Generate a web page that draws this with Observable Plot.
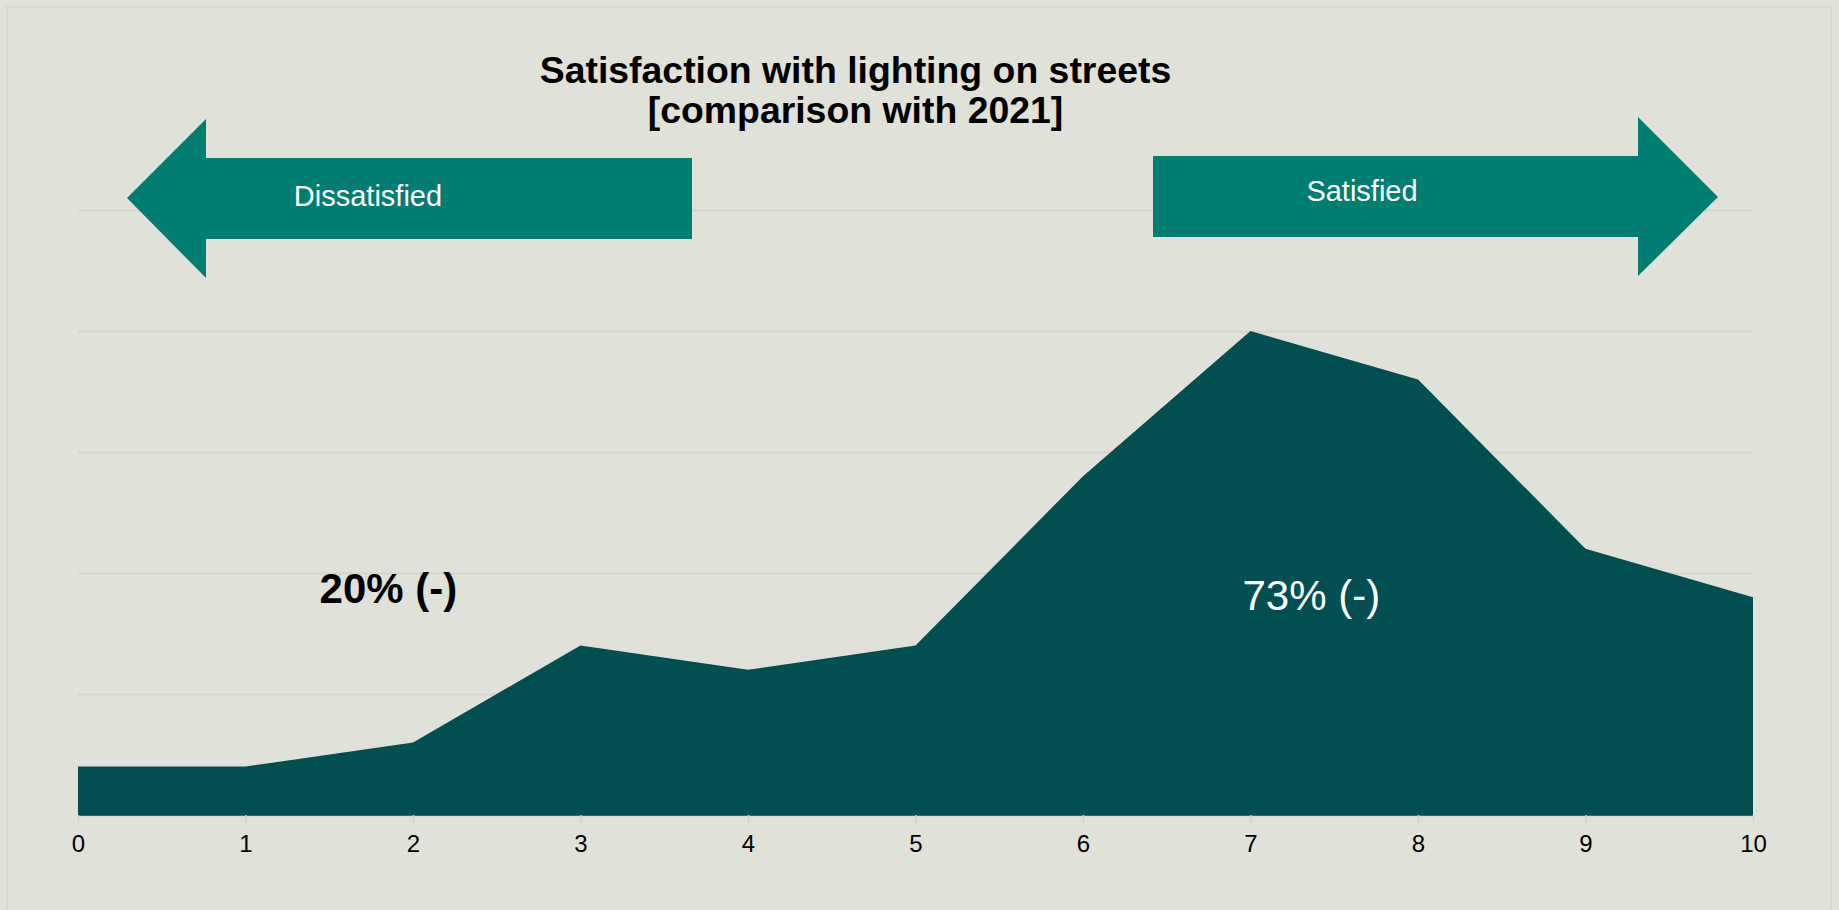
<!DOCTYPE html>
<html>
<head>
<meta charset="utf-8">
<script src="https://cdn.jsdelivr.net/npm/d3@7"></script>
<script src="https://cdn.jsdelivr.net/npm/@observablehq/plot@0.6"></script>
<style>
  html, body { margin: 0; padding: 0; background: #e0e1d9; }
  #wrap { position: relative; width: 1839px; height: 910px; overflow: hidden; background: #e0e1d9; }
  #frame { position: absolute; left: 6px; top: 6px; width: 1826px; height: 920px; border: 2px solid #d6d7d4; box-sizing: border-box; pointer-events: none; }
  #chart { position: absolute; left: 0; top: 0; }
  #overlay { position: absolute; left: 0; top: 0; pointer-events: none; }
</style>
</head>
<body>
<div id="wrap">
  <div id="frame"></div>
  <div id="chart"></div>
  <svg id="overlay" width="1839" height="300"></svg>
</div>
<script>
// ---- data ----
const scores = [0, 1, 2, 3, 4, 5, 6, 7, 8, 9, 10];
const shares = [2, 2, 3, 7, 6, 7, 14, 20, 18, 11, 9];   // % of respondents per score
const gridValues = [0, 5, 10, 15, 20, 25];
const titleLines = ["Satisfaction with lighting on streets", "[comparison with 2021]"];
const arrowLabels = ["Dissatisfied", "Satisfied"];
const summaryLabels = ["20% (-)", "73% (-)"];

const data = scores.map((s, i) => ({score: s, share: shares[i]}));

// annotation placement (data coordinates)
const dissatisfiedPos = [{x: 1.85, y: 9.35, text: summaryLabels[0]}];
const satisfiedPos = [{x: 7.36, y: 9.05, text: summaryLabels[1]}];

const W = 1839, H = 910;
const chart = Plot.plot({
  width: W,
  height: H,
  marginLeft: 78,
  marginRight: W - 1753,
  marginTop: 210,
  marginBottom: H - 815,
  style: {background: "transparent", fontFamily: "'Liberation Sans', Arial, sans-serif", fontSize: "24px", color: "#000"},
  x: {domain: [0, 10]},
  y: {domain: [0, 25], axis: null},
  marks: [
    Plot.gridY(gridValues, {stroke: "#d4d5d4", strokeOpacity: 1, strokeWidth: 1.8}),
    Plot.areaY(data, {x: "score", y: "share", fill: "#024f51", curve: "linear"}),
    Plot.ruleY([0], {stroke: "#2f6f6f", strokeWidth: 1}),
    Plot.axisX({ticks: scores, tickSize: 8, tickPadding: 11, stroke: "#cfd0cc", strokeWidth: 1.5,
                fontSize: 24, fill: "#000", tickFormat: d => String(d), label: null}),
    Plot.text(dissatisfiedPos, {x: "x", y: "y", text: "text", fill: "#000", fontWeight: "bold",
                                fontSize: 42, lineAnchor: "middle", textAnchor: "middle"}),
    Plot.text(satisfiedPos, {x: "x", y: "y", text: "text", fill: "#fff", fontWeight: "normal",
                             fontSize: 42, lineAnchor: "middle", textAnchor: "middle"})
  ]
});
document.getElementById("chart").appendChild(chart);

// ---- overlay: title and direction arrows ----
const svg = d3.select("#overlay");
const teal = "#017d71";
const leftArrow = [[127,198],[206,119],[206,158],[692,158],[692,239],[206,239],[206,278]];
const rightArrow = [[1153,156],[1638,156],[1638,117],[1718,197],[1638,276],[1638,237],[1153,237]];
svg.append("polygon").attr("points", leftArrow.map(p => p.join(",")).join(" ")).attr("fill", teal);
svg.append("polygon").attr("points", rightArrow.map(p => p.join(",")).join(" ")).attr("fill", teal);
svg.append("text").attr("x", 368).attr("y", 205.5).attr("text-anchor", "middle")
  .attr("font-family", "'Liberation Sans', Arial, sans-serif").attr("font-size", 29).attr("fill", "#fff")
  .text(arrowLabels[0]);
svg.append("text").attr("x", 1362).attr("y", 201).attr("text-anchor", "middle")
  .attr("font-family", "'Liberation Sans', Arial, sans-serif").attr("font-size", 29).attr("fill", "#fff")
  .text(arrowLabels[1]);
const titleBase = [83.3, 123];
titleLines.forEach((t, i) => {
  svg.append("text").attr("x", 855.5).attr("y", titleBase[i]).attr("text-anchor", "middle")
    .attr("font-family", "'Liberation Sans', Arial, sans-serif").attr("font-weight", "bold")
    .attr("font-size", 37.4).attr("fill", "#000").text(t);
});
</script>
</body>
</html>
